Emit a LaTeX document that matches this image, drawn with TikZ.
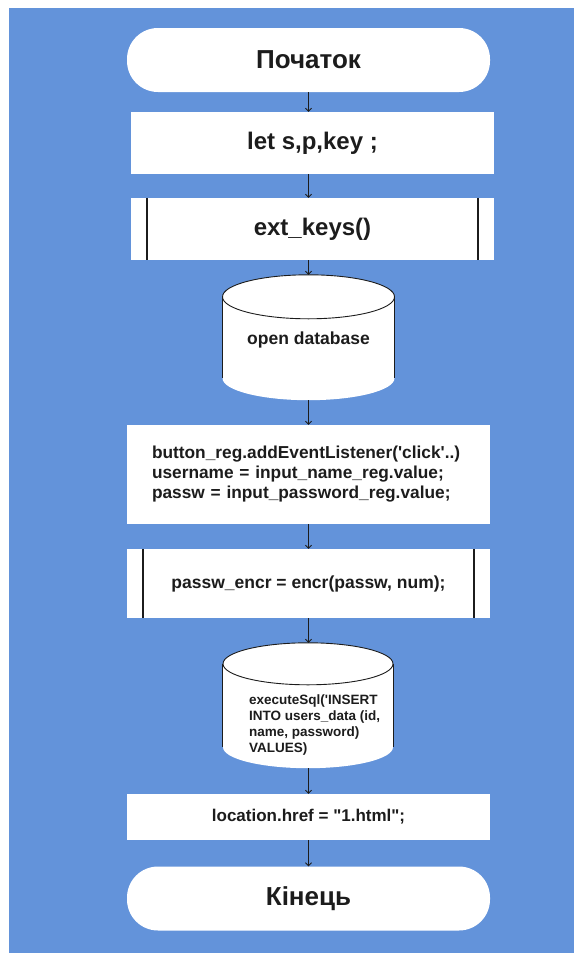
\documentclass[tikz,border=0pt]{standalone}
\usepackage{fontspec}
\setmainfont{Liberation Sans}
\newfontfamily\flowfont{Liberation Sans}
\usetikzlibrary{arrows.meta,backgrounds}
\definecolor{bgblue}{RGB}{99,147,218}
\definecolor{ink}{RGB}{28,28,28}

\begin{document}
\begin{tikzpicture}[x=1pt,y=-1pt,
  term/.style={fill=white, rounded corners=31pt, minimum width=363pt, minimum height=64pt,
    inner sep=0pt, text=ink, font=\flowfont\fontsize{26}{30}\selectfont\bfseries},
  proc/.style={fill=white, minimum width=363pt, inner sep=0pt, text=ink},
  dbbox/.style={minimum width=172pt, minimum height=125pt, inner sep=0pt},
  bar/.style={draw=ink, line width=1.6pt},
  flow/.style={draw=ink, line width=0.9pt, -{Straight Barb[length=3pt,width=6pt]}}
]

\useasboundingbox (0,0) rectangle (574,953);

\node[term] (start) at (308.5,60) {Початок};
\node[proc, minimum height=62pt, font=\flowfont\fontsize{24}{28}\selectfont\bfseries] (let) at (312.5,143) {let s,p,key ;};
\node[proc, minimum height=62pt, font=\flowfont\fontsize{24}{28}\selectfont\bfseries] (ext) at (312.5,229) {ext\_keys()};
\node[dbbox] (db1) at (308.5,337.5) {};
\node[inner sep=0pt, text=ink, font=\flowfont\fontsize{17.5}{20}\selectfont\bfseries] (dbtxt) at (308.5,340) {open database};
\node[proc, minimum height=99pt, inner xsep=25pt, text width=313pt, align=left,
  font=\flowfont\fontsize{17.3}{20}\selectfont\bfseries] (btn) at (308.5,474.5)
  {button\_reg.addEventListener('click'..)\\
   username = input\_name\_reg.value;\\
   passw = input\_password\_reg.value;};
\node[proc, minimum height=69pt, font=\flowfont\fontsize{17.5}{20}\selectfont\bfseries] (enc) at (308.5,583.5) {passw\_encr = encr(passw, num);};
\node[dbbox, minimum width=170pt] (db2) at (308,705.5) {};
\node[anchor=west, inner sep=0pt, text=ink, align=left, font=\flowfont\fontsize{13.5}{16}\selectfont\bfseries] (sql) at (249,725)
  {executeSql('INSERT\\INTO users\_data (id,\\name, password)\\VALUES)};
\node[proc, minimum height=46pt, font=\flowfont\fontsize{17}{20}\selectfont\bfseries] (loc) at (308.5,817) {location.href = "1.html";};
\node[term] (end) at (308.5,898.5) {Кінець};

% sub-process side bars
\draw[bar] ([xshift=16pt]ext.north west) -- ([xshift=16pt]ext.south west);
\draw[bar] ([xshift=-16pt]ext.north east) -- ([xshift=-16pt]ext.south east);
\draw[bar] ([xshift=16pt]enc.north west) -- ([xshift=16pt]enc.south west);
\draw[bar] ([xshift=-16pt]enc.north east) -- ([xshift=-16pt]enc.south east);

\begin{scope}[on background layer]
\fill[bgblue] (9,8) rectangle (574,953);

% database shapes
\fill[white] ([yshift=-22pt]db1.north west) rectangle ([yshift=22pt]db1.south east);
\fill[white] ([yshift=22pt]db1.south) ellipse[x radius=86pt, y radius=22pt];
\draw[ink, fill=white, line width=0.9pt] ([yshift=-22pt]db1.north) ellipse[x radius=86pt, y radius=22pt];
\draw[ink, line width=0.9pt] ([yshift=-22pt]db1.north west) -- ([yshift=22pt]db1.south west);
\draw[ink, line width=0.9pt] ([yshift=-22pt]db1.north east) -- ([yshift=22pt]db1.south east);

\fill[white] ([yshift=-21pt]db2.north west) rectangle ([yshift=21pt]db2.south east);
\fill[white] ([yshift=21pt]db2.south) ellipse[x radius=85pt, y radius=21pt];
\draw[ink, fill=white, line width=0.9pt] ([yshift=-21pt]db2.north) ellipse[x radius=85pt, y radius=21pt];
\draw[ink, line width=0.9pt] ([yshift=-21pt]db2.north west) -- ([yshift=21pt]db2.south west);
\draw[ink, line width=0.9pt] ([yshift=-21pt]db2.north east) -- ([yshift=21pt]db2.south east);
\end{scope}

\draw[flow] (start.south) -- (start.south |- let.north);
\draw[flow] (start.south |- let.south) -- (start.south |- ext.north);
\draw[flow] (start.south |- ext.south) -- (db1.north);
\draw[flow] (db1.south) -- (btn.north);
\draw[flow] (btn.south) -- (enc.north);
\draw[flow] (enc.south) -- (enc.south |- db2.north);
\draw[flow] (enc.south |- db2.south) -- (loc.north);
\draw[flow] (loc.south) -- (end.north);

\end{tikzpicture}
\end{document}
